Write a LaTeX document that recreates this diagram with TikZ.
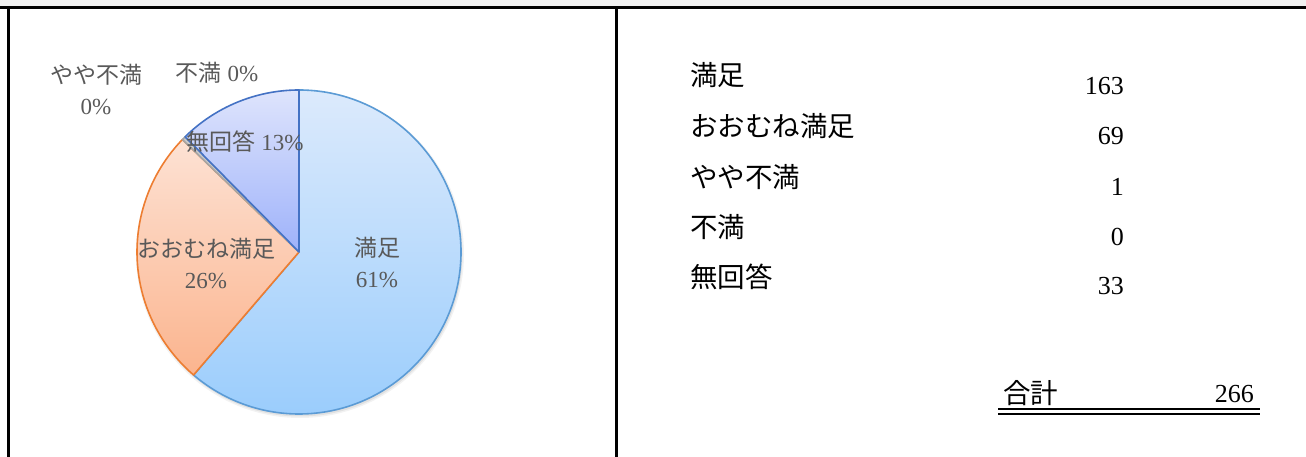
\documentclass[tikz,border=0pt]{standalone}
\usepackage{fontspec}
\setmainfont{Liberation Serif}
\newfontfamily\jp{Noto Sans CJK JP}
\usepackage{tikz}
\usetikzlibrary{shapes}
\usetikzlibrary{arrows}

\definecolor{labgray}{HTML}{595959}
\definecolor{bandgray}{HTML}{F0F0F0}
\definecolor{skyA}{HTML}{DCEAFC}
\definecolor{skyB}{HTML}{9BCDFC}
\definecolor{skyline}{HTML}{5B9BD5}
\definecolor{orgA}{HTML}{FDE2D4}
\definecolor{orgB}{HTML}{FBB48E}
\definecolor{orgline}{HTML}{ED7D31}
\definecolor{purA}{HTML}{DEE4FC}
\definecolor{purB}{HTML}{9EB2FA}
\definecolor{purline}{HTML}{4472C4}
\definecolor{slicegray}{HTML}{A5A5A5}

\begin{document}
\begin{tikzpicture}[x=1pt,y=1pt]
	\tikzstyle{pielab}=[text=labgray,font=\fontsize{23}{31}\selectfont,align=center,inner sep=0pt]
	\tikzstyle{rowlab}=[anchor=west,font=\jp\fontsize{27.5}{30}\selectfont,inner sep=0pt]
	\tikzstyle{rownum}=[anchor=east,font=\fontsize{26}{30}\selectfont,inner sep=0pt]
	\tikzstyle{frame}=[line width=3pt]
	\tikzstyle{slice}=[line width=1.6pt,line join=round]

	\useasboundingbox (0,0) rectangle (1306,457);

	% frame
	\fill[bandgray] (0,451) rectangle (1306,457);
	\draw[frame] (0,449.5) -- (1306,449.5);
	\draw[frame] (8,449.5) -- (8,0);
	\draw[frame] (616.5,449.5) -- (616.5,0);

	% pie
	\coordinate (C) at (299,205);
	\fill[black,opacity=0.05] (C) ++(1,-2) circle[radius=164];
	\fill[black,opacity=0.07] (C) ++(1,-2) circle[radius=162.5];
	\path[slice,draw=skyline,top color=skyA,bottom color=skyB] (C) -- ++(90:162) arc[start angle=90,end angle=-130.6,radius=162] -- cycle;
	\path[slice,draw=orgline,top color=orgA,bottom color=orgB] (C) -- ++(136.02:162) arc[start angle=136.02,end angle=229.4,radius=162] -- cycle;
	\path[slice,draw=slicegray,fill=slicegray!60] (C) -- ++(134.67:162) arc[start angle=134.67,end angle=136.02,radius=162] -- cycle;
	\path[slice,draw=purline,top color=purA,bottom color=purB] (C) -- ++(90:162) arc[start angle=90,end angle=134.67,radius=162] -- cycle;

	% pie labels
	\node[pielab] (p1) at (377,195) {{\jp 満足}\\61\%};
	\node[pielab] (p2) at (206,194) {{\jp おおむね満足}\\26\%};
	\node[pielab] (p3) at (96,368) {{\jp やや不満}\\0\%};
	\node[pielab] (p4) at (217,384) {{\jp 不満} 0\%};
	\node[pielab] (p5) at (245,315) {{\jp 無回答} 13\%};

	% table
	\node[rowlab] (l1) at (690,382) {満足};
	\node[rowlab] (l2) at (690,331) {おおむね満足};
	\node[rowlab] (l3) at (690,280) {やや不満};
	\node[rowlab] (l4) at (690,230) {不満};
	\node[rowlab] (l5) at (690,180) {無回答};
	\node[rownum] (n1) at (1124,371) {163};
	\node[rownum] (n2) at (1124,321) {69};
	\node[rownum] (n3) at (1124,270) {1};
	\node[rownum] (n4) at (1124,220) {0};
	\node[rownum] (n5) at (1124,171) {33};

	\node[rowlab] (sumlab) at (1003,64) {合計};
	\node[rownum] (sumnum) at (1254,63) {266};
	\coordinate (ulL) at (998,48);
	\coordinate (ulR) at (1260,48);
	\draw[line width=2.2pt] (ulL) -- (ulR);
	\draw[line width=2.2pt] ([yshift=-5]ulL) -- ([yshift=-5]ulR);
\end{tikzpicture}
\end{document}
